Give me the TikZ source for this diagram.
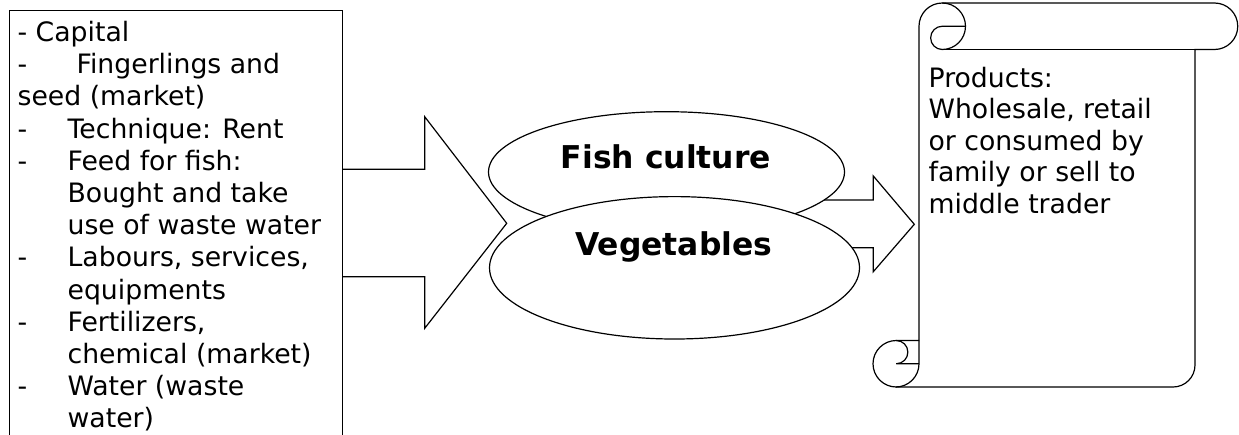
\documentclass[tikz,border=0pt]{standalone}
\usepackage{fontspec}
\setmainfont{DejaVu Sans}
\usetikzlibrary{shapes.geometric}
\begin{document}
\begin{tikzpicture}[x=1pt, y=-1pt, line width=1.2pt, line join=miter,
  txt/.style={anchor=base west, inner sep=0pt, font=\fontsize{26.7}{32}\selectfont},
  big/.style={anchor=base, inner sep=0pt, font=\fontsize{31.4}{38}\selectfont\bfseries},
  blk/.style={draw, fill=white},
  oval/.style={draw, fill=white, ellipse, inner sep=0pt}]
\path[use as bounding box] (0,0) rectangle (1239,434);
\clip (0,0) rectangle (1239,434);

% block arrow from the inputs towards the two activities
\draw[blk] (330,169.3) -- (424.7,169.3) -- (424.7,116.7) -- (506.7,223.3)
  -- (424.7,328.3) -- (424.7,276.7) -- (330,276.7);

% inputs box (runs off the bottom edge)
\node[blk, anchor=north west, minimum width=333pt, minimum height=440pt,
  inner sep=0pt] (inputs) at (9,10) {};

% list of inputs
\foreach \n/\x/\y/\s in {
  1/17/41.5/{- Capital},
  2/76/73.7/{Fingerlings and},
  3/17/105.9/{seed (market)},
  4/67/138.1/{Technique: Rent},
  5/67/170.3/{Feed for fish:},
  6/67/202.5/{Bought and take},
  7/67/234.7/{use of waste water},
  8/67/266.9/{Labours, services,},
  9/67/299.1/{equipments},
  10/67/331.3/{Fertilizers,},
  11/67/363.5/{chemical (market)},
  12/67/395.7/{Water (waste},
  13/67/427.9/{water)}}
  \node[txt] (t\n) at (\x,\y) {\s};
\foreach \n/\y in {2/73.7, 4/138.1, 5/170.3, 8/266.9, 10/331.3, 12/395.7}
  \node[txt] (d\n) at (17,\y) {-};

% block arrow from the activities to the products
\draw[blk] (780,200) -- (873.3,200) -- (873.3,176) -- (914.3,224.3)
  -- (873.3,271.7) -- (873.3,247.7) -- (780,247.7) -- cycle;

% the two activities
\node[oval, minimum width=356pt, minimum height=120.6pt] (fish) at (666.5,172) {};
\node[oval, minimum width=370pt, minimum height=142.4pt] (veg) at (674.5,267.8) {};
\node[big] (fishlbl) at (666,168) {Fish culture};
\node[big] (veglbl) at (673.7,255) {Vegetables};

% products scroll: outline
\draw[blk] (919,26.25) arc[start angle=180, end angle=90, radius=23.25pt]
  -- (1214.5,3) arc[start angle=90, end angle=-90, radius=23.25pt]
  -- (1195,49.5) -- (1195,365) arc[start angle=0, end angle=-90, radius=22pt]
  -- (896.25,387) arc[start angle=-90, end angle=-270, radius=23.25pt]
  -- (919,340.5) -- cycle;
% top roll
\draw (942.25,3) arc[start angle=90, end angle=-90, radius=23.25pt];
\draw (942.25,49.5) -- (1195,49.5);
\draw (965.5,26.25) -- (942.25,26.25)
  arc[start angle=90, end angle=270, radius=11.625pt];
% bottom roll
\draw (919,340.5) -- (919,363.75) arc[start angle=0, end angle=-90, radius=23.25pt];
\draw (919,363.75) -- (896.25,363.75)
  arc[start angle=-90, end angle=90, radius=11.625pt];

% products text
\foreach \n/\y/\s in {
  1/87.3/{Products:},
  2/118.8/{Wholesale, retail},
  3/150.3/{or consumed by},
  4/181.8/{family or sell to},
  5/213.3/{middle trader}}
  \node[txt] (p\n) at (928,\y) {\s};
\end{tikzpicture}
\end{document}
